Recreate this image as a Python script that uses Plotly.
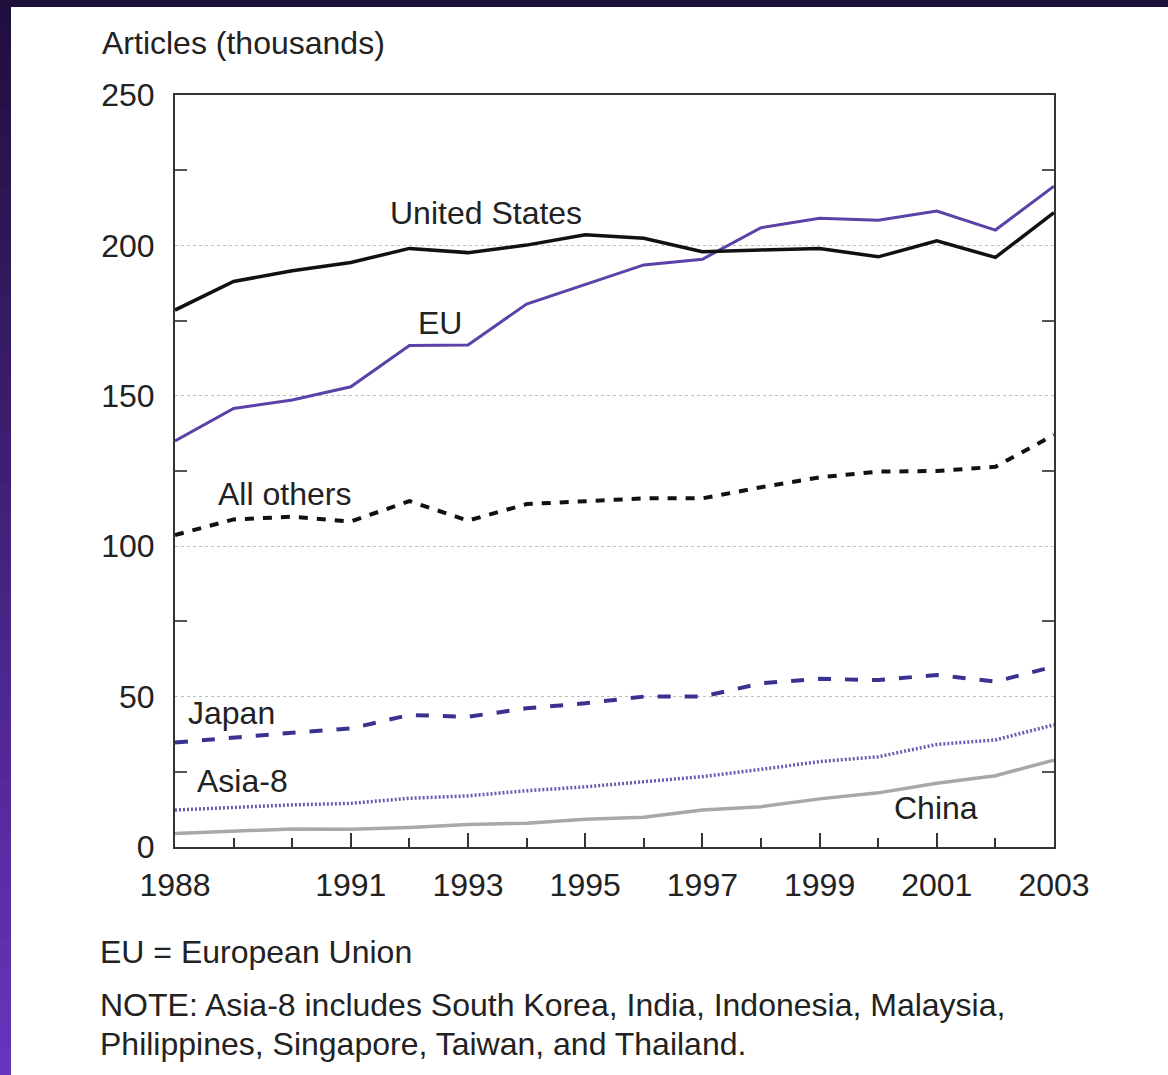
import plotly.graph_objects as go

years = list(range(1988, 2004))
united_states = [178.5, 188.0, 191.6, 194.3, 199.0, 197.6, 200.1, 203.5, 202.4, 197.9, 198.5, 199.0, 196.2, 201.5, 196.0, 210.9]
eu = [135.0, 145.8, 148.6, 153.0, 166.7, 166.9, 180.5, 187.0, 193.5, 195.4, 205.9, 209.0, 208.4, 211.4, 205.1, 219.7]
all_others = [103.7, 108.9, 109.8, 108.2, 115.0, 108.5, 114.0, 114.8, 115.9, 115.9, 119.6, 122.9, 124.8, 125.0, 126.4, 137.0]
japan = [34.7, 36.5, 38.0, 39.4, 43.9, 43.3, 46.1, 47.8, 50.0, 50.0, 54.4, 55.9, 55.5, 57.2, 55.0, 60.0]
asia8 = [12.3, 13.2, 14.0, 14.5, 16.2, 17.0, 18.7, 20.0, 21.7, 23.4, 25.8, 28.4, 30.0, 34.1, 35.6, 40.6]
china = [4.5, 5.3, 6.0, 5.9, 6.5, 7.5, 7.9, 9.2, 9.9, 12.3, 13.4, 16.0, 18.0, 21.2, 23.7, 28.9]

tick_years = [1988, 1991, 1993, 1995, 1997, 1999, 2001, 2003]
y_ticks = [0, 50, 100, 150, 200, 250]

labels = [
    ("United States", 1993.31, 210.8),
    ("EU", 1992.52, 174.2),
    ("All others", 1989.86, 117.4),
    ("Japan", 1988.96, 44.5),
    ("Asia-8", 1989.16, 21.9),
    ("China", 2000.99, 13.0),
]

FONT = "Liberation Sans, Arial, sans-serif"
TXT = "#222222"
FS = 32

fig = go.Figure()
series = [
    (china, dict(color="#a8a8a8", width=3.5)),
    (asia8, dict(color="#6a5cb0", width=3.5, dash="2px,2px")),
    (japan, dict(color="#3a3290", width=4, dash="13px,14px")),
    (all_others, dict(color="#111111", width=4, dash="9px,9px")),
    (eu, dict(color="#5a42a8", width=3)),
    (united_states, dict(color="#111111", width=3.5)),
]
for vals, ln in series:
    fig.add_trace(go.Scatter(x=years, y=vals, mode="lines", line=ln,
                             showlegend=False, hoverinfo="skip"))

for txt, x, y in labels:
    fig.add_annotation(x=x, y=y, text=txt, showarrow=False,
                       font=dict(family=FONT, size=FS, color=TXT),
                       xanchor="center", yanchor="middle")

# page geometry
L, R, T, B = 175, 1054, 95, 847
W, H = R - L, B - T
def px(x):
    return (x - L) / W
def py(y):
    return (B - y) / H

fig.add_annotation(xref="paper", yref="paper", x=px(100), y=py(43),
                   text="Articles (thousands)", showarrow=False,
                   xanchor="left", yanchor="middle",
                   font=dict(family=FONT, size=FS, color=TXT))
notes = [
    ("EU = European Union", 952),
    ("NOTE: Asia-8 includes South Korea, India, Indonesia, Malaysia,", 1005),
    ("Philippines, Singapore, Taiwan, and Thailand.", 1044),
]
for txt, yy in notes:
    fig.add_annotation(xref="paper", yref="paper", x=px(98), y=py(yy),
                       text=txt, showarrow=False, xanchor="left", yanchor="middle",
                       font=dict(family=FONT, size=FS, color=TXT))

# decorative frame: dark top band and left gradient strip
def mix(c1, c2, t):
    return "rgb(%d,%d,%d)" % tuple(round(a + (b - a) * t) for a, b in zip(c1, c2))
top_c = (30, 15, 60)
bot_c = (104, 52, 190)
n = 40
for i in range(n):
    y0 = 1075 * i / n
    y1 = 1075 * (i + 1) / n + 2
    fig.add_shape(type="rect", xref="paper", yref="paper",
                  x0=px(0), x1=px(11), y0=py(y1), y1=py(y0),
                  fillcolor=mix(top_c, bot_c, (i + 0.5) / n), line=dict(width=0),
                  layer="above")
fig.add_shape(type="rect", xref="paper", yref="paper",
              x0=px(0), x1=px(1168), y0=py(7), y1=py(0),
              fillcolor="rgb(30,15,60)", line=dict(width=0), layer="above")

fig.update_xaxes(range=[1988, 2003], tickvals=tick_years,
                 ticktext=[str(t) for t in tick_years],
                 ticks="inside", ticklen=14, tickwidth=1.5, tickcolor="#333",
                 ticklabelstandoff=9,
                 minor=dict(dtick=1, tick0=1988, ticks="inside", ticklen=9,
                            tickwidth=1.5, tickcolor="#333"),
                 showgrid=False, zeroline=False,
                 showline=True, linecolor="#333", linewidth=2, mirror=True,
                 tickfont=dict(family=FONT, size=FS, color=TXT))
fig.update_yaxes(range=[0, 250], tickvals=y_ticks,
                 ticks="", ticklabelstandoff=12,
                 minor=dict(tickvals=[25, 75, 125, 175, 225], ticks="inside",
                            ticklen=12, tickwidth=1.5, tickcolor="#555"),
                 showgrid=True, gridcolor="#bdbdbd", gridwidth=1, griddash="3px,3px",
                 zeroline=False,
                 showline=True, linecolor="#333", linewidth=2, mirror="allticks",
                 tickfont=dict(family=FONT, size=FS, color=TXT))

fig.update_layout(width=1168, height=1075,
                  margin=dict(l=L, r=1168 - R, t=T, b=1075 - B, autoexpand=False),
                  paper_bgcolor="white", plot_bgcolor="white",
                  font=dict(family=FONT, color=TXT))

fig.write_html("out.html", config={"displayModeBar": False},
               post_script="document.body.style.margin='0px';document.body.style.padding='0px';")
